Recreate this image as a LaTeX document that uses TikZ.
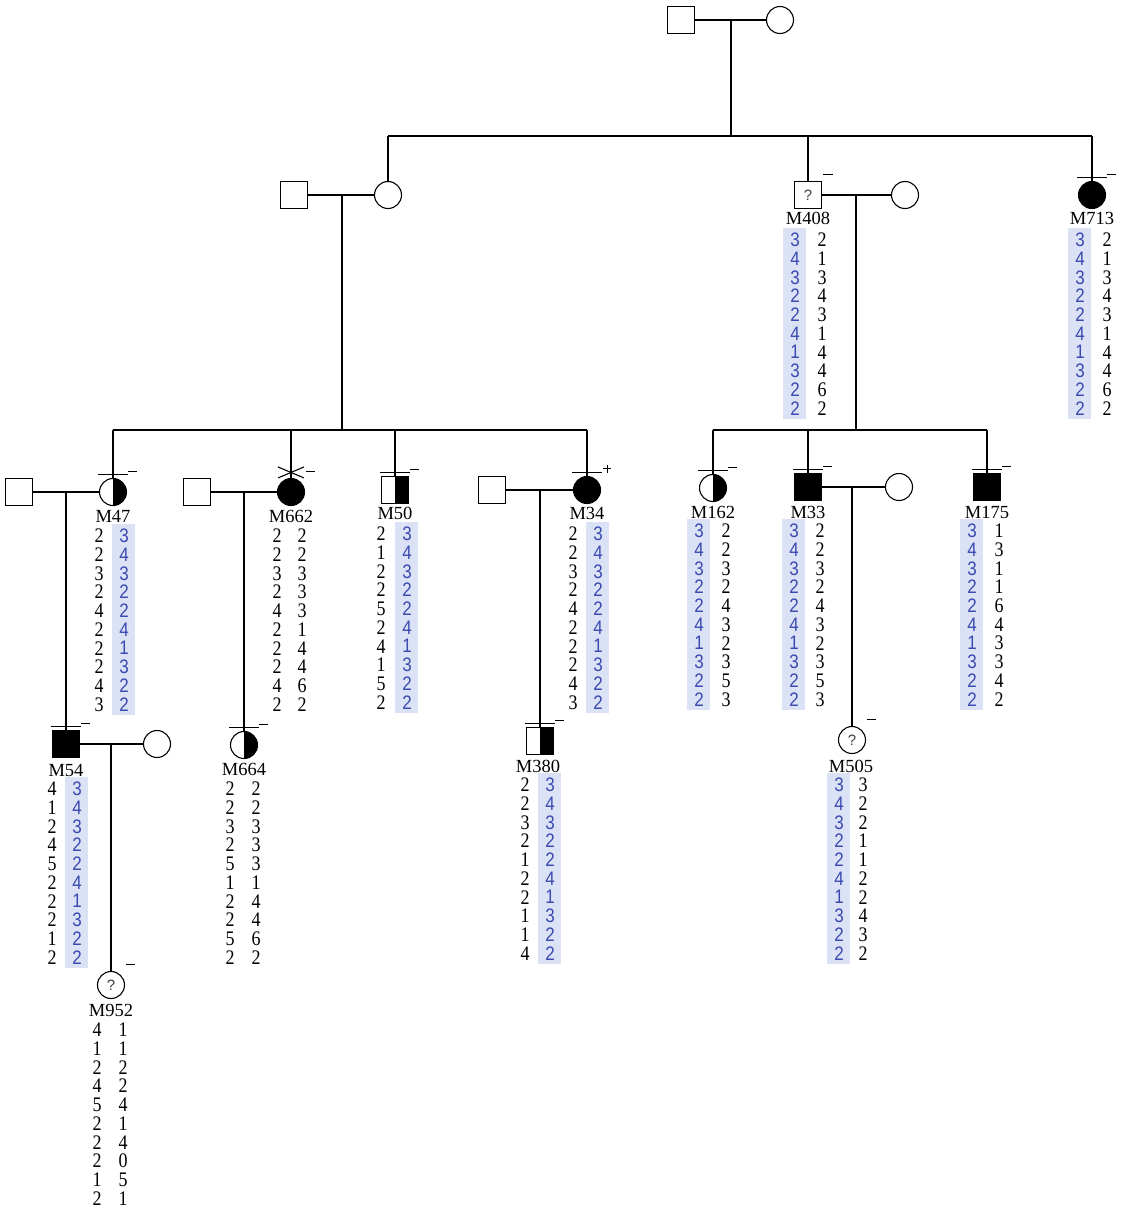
\documentclass[tikz,border=0pt]{standalone}
\usepackage{fontspec}
\setmainfont{Liberation Serif}
\newfontfamily\bluefont{Liberation Sans}
\definecolor{bluetxt}{HTML}{3A4AB0}
\definecolor{shadecol}{HTML}{DCE2F6}
\tikzset{
 ln/.style={line width=1.1pt},
 male/.style={draw, line width=1.1pt, minimum size=27pt, inner sep=0pt, fill=white},
 fem/.style={draw, circle, line width=1.1pt, minimum size=27pt, inner sep=0pt, fill=white},
 aff/.style={fill=black},
 half/.style={path picture={\fill[black] (path picture bounding box.north) rectangle (path picture bounding box.south east);}},
 lab/.style={font=\fontsize{18.5}{20}\selectfont, inner sep=0pt},
 kd/.style={font=\fontsize{18}{20}\selectfont, inner sep=0pt},
 bd/.style={font=\bluefont\fontsize{17}{20}\selectfont, text=bluetxt, inner sep=0pt},
 qm/.style={font=\bluefont\fontsize{15}{16}\selectfont, text=black!75}
}
\newcommand\kcol[4]{%
 \foreach \v [count=\i] in {#4} {\node[kd] (#1-\i) at (#2,{#3+(\i-1)*18.7}) {\scalebox{1}[1.15]{\v}};}}
\newcommand\bcol[4]{%
 \fill[shadecol] ({#2-12},{#3-12}) rectangle ({#2+11},{#3+9*18.7+11});
 \foreach \v [count=\i] in {#4} {\node[bd] (#1-\i) at (#2,{#3+(\i-1)*18.7}) {\scalebox{1}[1.15]{\v}};}}
\newcommand\barmark[1]{\draw[ln] ([xshift=-15pt,yshift=3.5pt]#1.north) -- ([xshift=15pt,yshift=3.5pt]#1.north);}
\newcommand\dashmark[1]{\draw[line width=1pt] ([xshift=15pt,yshift=6pt]#1.north) -- ([xshift=24pt,yshift=6pt]#1.north);}
\begin{document}
\begin{tikzpicture}[x=1pt,y=-1pt]
\useasboundingbox (0,0) rectangle (1128,1208);
% generation I
\node[male] (F0) at (681,20) {};
\node[fem] (M0) at (780,20) {};
\coordinate (t0) at (731,20);
\coordinate (t1) at (731,136);
\coordinate (s1L) at (388,136);
\coordinate (s1M) at (808,136);
\coordinate (s1R) at (1092,136);
\draw[ln] (F0.east) -- (M0.west);
\draw[ln] (t0) -- (t1);
\draw[ln] (s1L) -- (s1R);
% generation II
\node[male] (S1) at (294,195) {};
\node[fem] (D1) at (388,195) {};
\node[male,qm] (M408) at (808,195) {?};
\node[fem] (W408) at (905,195) {};
\node[fem,aff] (M713) at (1092,195) {};
\draw[ln] (s1L) -- (D1.north);
\draw[ln] (s1M) -- (M408.north);
\draw[ln] (s1R) -- (M713.north);
\draw[ln] (S1.east) -- (D1.west);
\draw[ln] (M408.east) -- (W408.west);
\barmark{M713}\dashmark{M713}
\draw[line width=1pt] ([xshift=15pt,yshift=6pt]M408.north) -- ([xshift=25pt,yshift=6pt]M408.north);
\node[lab] (M408l) at (808,218) {M408};
\node[lab] (M713l) at (1092,218) {M713};
\bcol{M408a}{795}{240}{3,4,3,2,2,4,1,3,2,2}
\kcol{M408b}{822}{240}{2,1,3,4,3,1,4,4,6,2}
\bcol{M713a}{1080}{240}{3,4,3,2,2,4,1,3,2,2}
\kcol{M713b}{1107}{240}{2,1,3,4,3,1,4,4,6,2}
% left sibship
\coordinate (l0) at (342,195);
\coordinate (l1) at (342,430);
\coordinate (l1a) at (113,430);
\coordinate (l1c) at (291,430);
\coordinate (l1d) at (395,430);
\coordinate (l1b) at (587,430);
\draw[ln] (l0) -- (l1);
\draw[ln] (l1a) -- (l1b);
% right sibship
\coordinate (r0) at (856,195);
\coordinate (r1) at (856,430);
\coordinate (r1a) at (713,430);
\coordinate (r1c) at (808,430);
\coordinate (r1b) at (987,430);
\draw[ln] (r0) -- (r1);
\draw[ln] (r1a) -- (r1b);
% generation III
\node[male] (H47) at (19,492) {};
\node[fem,half] (M47) at (113,492) {};
\node[male] (H662) at (197,492) {};
\node[fem,aff] (M662) at (291,492) {};
\node[male,half] (M50) at (395,490) {};
\node[male] (H34) at (492,490) {};
\node[fem,aff] (M34) at (587,490) {};
\node[fem,half] (M162) at (713,488) {};
\node[male,aff] (M33) at (808,487) {};
\node[fem] (W33) at (899,487) {};
\node[male,aff] (M175) at (987,487) {};
\draw[ln] (l1a) -- (M47.north);
\draw[ln] (l1c) -- (M662.north);
\draw[ln] (l1d) -- (M50.north);
\draw[ln] (l1b) -- (M34.north);
\draw[ln] (r1a) -- (M162.north);
\draw[ln] (r1c) -- (M33.north);
\draw[ln] (r1b) -- (M175.north);
\draw[ln] (H47.east) -- (M47.west);
\draw[ln] (H662.east) -- (M662.west);
\draw[ln] (H34.east) -- (M34.west);
\draw[ln] (M33.east) -- (W33.west);
\barmark{M47}\dashmark{M47}
\barmark{M50}\dashmark{M50}
\barmark{M34}
\draw[line width=1pt] ([xshift=16pt,yshift=7pt]M34.north) -- ([xshift=24pt,yshift=7pt]M34.north);
\draw[line width=1pt] ([xshift=20pt,yshift=3pt]M34.north) -- ([xshift=20pt,yshift=11pt]M34.north);
\barmark{M162}\dashmark{M162}
\barmark{M33}\dashmark{M33}
\barmark{M175}\dashmark{M175}
\draw[ln] ([xshift=-13pt,yshift=11pt]M662.north) -- ([xshift=13pt,yshift=0pt]M662.north);
\draw[ln] ([xshift=-13pt,yshift=0pt]M662.north) -- ([xshift=13pt,yshift=11pt]M662.north);
\dashmark{M662}
\node[lab] (M47l) at (113,516) {M47};
\node[lab] (M662l) at (291,516) {M662};
\node[lab] (M50l) at (395,513) {M50};
\node[lab] (M34l) at (587,513) {M34};
\node[lab] (M162l) at (713,512) {M162};
\node[lab] (M33l) at (808,512) {M33};
\node[lab] (M175l) at (987,512) {M175};
\kcol{M47a}{99}{536}{2,2,3,2,4,2,2,2,4,3}
\bcol{M47b}{124}{536}{3,4,3,2,2,4,1,3,2,2}
\kcol{M662a}{277}{536}{2,2,3,2,4,2,2,2,4,2}
\kcol{M662b}{302}{536}{2,2,3,3,3,1,4,4,6,2}
\kcol{M50a}{381}{534}{2,1,2,2,5,2,4,1,5,2}
\bcol{M50b}{407}{534}{3,4,3,2,2,4,1,3,2,2}
\kcol{M34a}{573}{534}{2,2,3,2,4,2,2,2,4,3}
\bcol{M34b}{598}{534}{3,4,3,2,2,4,1,3,2,2}
\bcol{M162a}{699}{531}{3,4,3,2,2,4,1,3,2,2}
\kcol{M162b}{726}{531}{2,2,3,2,4,3,2,3,5,3}
\bcol{M33a}{794}{531}{3,4,3,2,2,4,1,3,2,2}
\kcol{M33b}{820}{531}{2,2,3,2,4,3,2,3,5,3}
\bcol{M175a}{972}{531}{3,4,3,2,2,4,1,3,2,2}
\kcol{M175b}{999}{531}{1,3,1,1,6,4,3,3,4,2}
% generation IV
\node[male,aff] (M54) at (66,744) {};
\node[fem] (W54) at (157,744) {};
\node[fem,half] (M664) at (244,745) {};
\node[male,half] (M380) at (540,741) {};
\node[fem,qm] (M505) at (852,740) {?};
\coordinate (a0) at (66,492);
\coordinate (b0) at (244,492);
\coordinate (c0) at (540,490);
\coordinate (e0) at (852,487);
\draw[ln] (a0) -- (M54.north);
\draw[ln] (b0) -- (M664.north);
\draw[ln] (c0) -- (M380.north);
\draw[ln] (e0) -- (M505.north);
\draw[ln] (M54.east) -- (W54.west);
\barmark{M54}\dashmark{M54}
\barmark{M664}\dashmark{M664}
\barmark{M380}\dashmark{M380}
\dashmark{M505}
\node[lab] (M54l) at (66,770) {M54};
\node[lab] (M664l) at (244,769) {M664};
\node[lab] (M380l) at (538,766) {M380};
\node[lab] (M505l) at (851,766) {M505};
\kcol{M54a}{52}{789}{4,1,2,4,5,2,2,2,1,2}
\bcol{M54b}{77}{789}{3,4,3,2,2,4,1,3,2,2}
\kcol{M664a}{230}{789}{2,2,3,2,5,1,2,2,5,2}
\kcol{M664b}{256}{789}{2,2,3,3,3,1,4,4,6,2}
\kcol{M380a}{525}{785}{2,2,3,2,1,2,2,1,1,4}
\bcol{M380b}{550}{785}{3,4,3,2,2,4,1,3,2,2}
\bcol{M505a}{839}{785}{3,4,3,2,2,4,1,3,2,2}
\kcol{M505b}{863}{785}{3,2,2,1,1,2,2,4,3,2}
% generation V
\node[fem,qm] (M952) at (111,985) {?};
\coordinate (f0) at (111,744);
\draw[ln] (f0) -- (M952.north);
\dashmark{M952}
\node[lab] (M952l) at (111,1010) {M952};
\kcol{M952a}{97}{1030}{4,1,2,4,5,2,2,2,1,2}
\kcol{M952b}{123}{1030}{1,1,2,2,4,1,4,0,5,1}
\end{tikzpicture}
\end{document}
